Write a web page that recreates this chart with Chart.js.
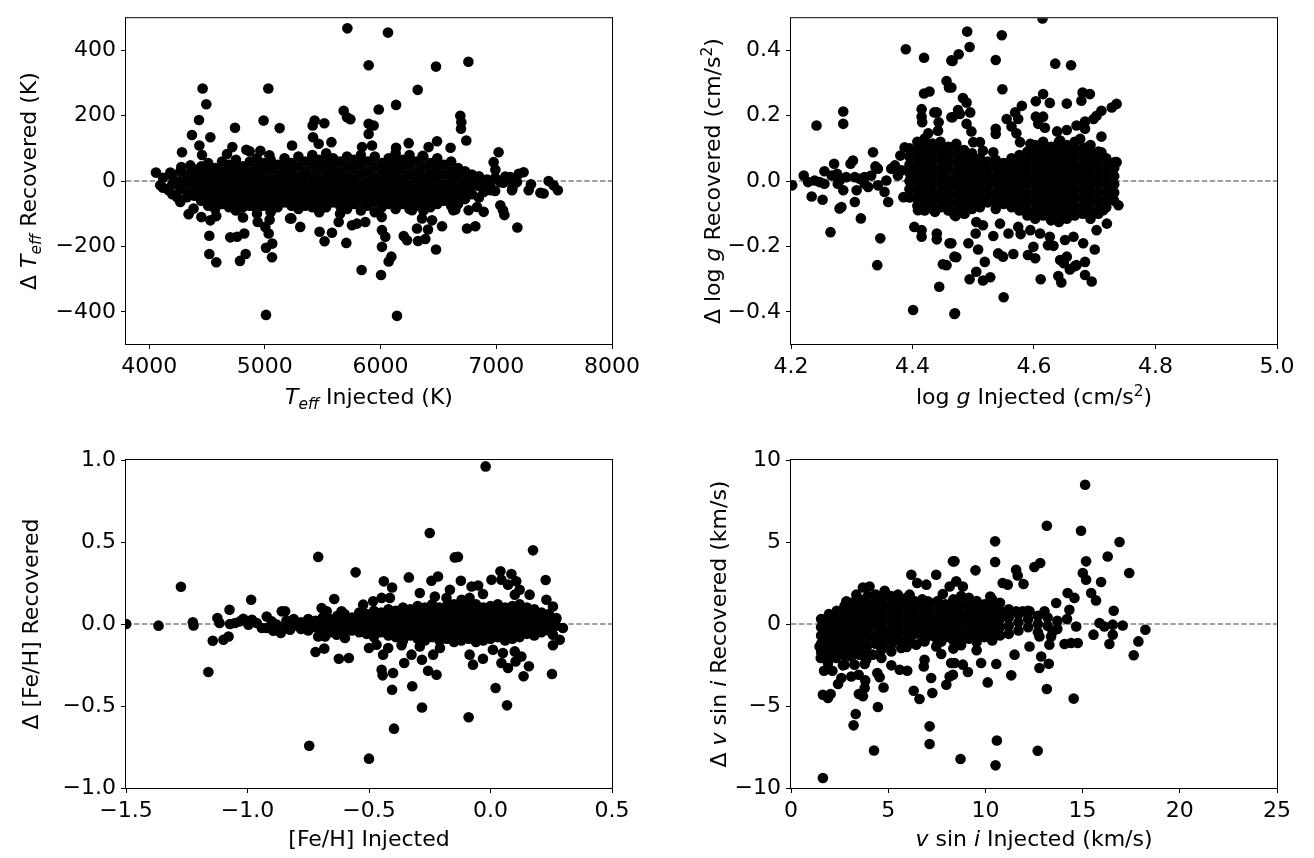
<!DOCTYPE html>
<html>
<head>
<meta charset="UTF-8">
<title>Injection recovery</title>
<script src="https://cdn.jsdelivr.net/npm/chart.js@4.4.1/dist/chart.umd.min.js"></script>
<style>
  body { margin: 0; background: #fff; }
  canvas { position: absolute; }
</style>
</head>
<body>
<canvas id="c1" width="657" height="429" style="left:0;top:0"></canvas>
<canvas id="c2" width="657" height="429" style="left:657px;top:0"></canvas>
<canvas id="c3" width="657" height="429" style="left:0;top:429px"></canvas>
<canvas id="c4" width="657" height="429" style="left:657px;top:429px"></canvas>
<script>
// [injected, recovered - injected]
const teffPoints = [
  [4462,283],[4494,235],[4431,187],[4370,141],[4529,134],[4434,109],[4284,88],[4742,163],[4989,185],[5030,283],
  [5128,162],[4719,104],[4840,96],[4868,91],[4961,93],[5039,79],[4673,83],[4457,80],
  [4341,-101],[4384,-84],[4451,-110],[4529,-120],[4580,-107],[4520,-167],[4701,-172],[4759,-170],[4822,-160],
  [4520,-223],[4580,-248],[4785,-244],[4834,-223],[5010,-409],[5010,-204],[5064,-191],[5062,-233],[5033,-160],
  [5004,-140],[5041,-118],[4938,-125],[4811,-111],[4932,-99],[5218,-114],
  [4059,26],[4096,-13],[4183,26],[4168,-28],[4241,-49],[4269,-64],[4327,-49],[4278,43],[4356,48],
  [5713,467],[6064,454],[5897,354],[6479,350],[6321,279],[6134,233],[5984,219],[5681,215],[5710,195],[5739,189],
  [5897,175],[5940,170],[5897,144],[5430,185],[5413,170],[5514,177],[5416,134],[5235,109],[5465,114],[5575,119],
  [5840,104],[5926,109],[6134,102],[6243,116],[6488,122],[6605,102],[6363,77],[6415,104],
  [5229,-114],[5306,-140],[5473,-155],[5516,-184],[5580,-158],[5704,-189],[5753,-135],[5796,-130],[5868,-125],
  [5638,-125],[6012,-150],[6041,-170],[6012,-201],[6093,-231],[6070,-246],[5836,-272],[6004,-287],[6142,-412],
  [6200,-168],[6229,-181],[6324,-183],[6387,-177],[6479,-209],[6315,-145],[6410,-148],[6531,-138],[6272,-89],
  [6358,-114],[6445,-120],[6628,-89],
  [6759,365],[6689,200],[6698,180],[6695,160],[6741,124],[7020,88],[6977,58],[6992,35],[7193,22],[7236,27],
  [7452,0],[7495,-13],[7532,-28],[7280,-28],[7381,-36],[7409,-38],[7182,-142],[7035,-74],[7058,-89],[7070,-104],
  [6747,-145],[6819,-138],[6761,-89],[6834,-79],[6891,-94],[6646,-87],[7136,-28],[7078,14],[7121,12],[7179,-3],
  [6791,2],[6862,2],[6949,-8],[7035,-3],[6891,-33],[6949,-28],[6776,-33],
  [4120,10],[4120,-20],[4200,15],[4200,-10],[4200,-40],[4270,30],[4270,0],[4270,-25],[4330,20],[4330,-5],[4330,-35],
  [4390,35],[4390,10],[4390,-15],[4390,-45],[4450,45],[4450,20],[4450,-5],[4450,-30],[4450,-60],
  [4510,55],[4510,25],[4510,0],[4510,-25],[4510,-50],[4510,-75],[4570,40],[4570,15],[4570,-10],[4570,-35],[4570,-60],[4570,-85],
  [4630,60],[4630,30],[4630,5],[4630,-20],[4630,-45],[4630,-70],[4690,50],[4690,25],[4690,-5],[4690,-30],[4690,-55],[4690,-80],
  [4750,65],[4750,35],[4750,10],[4750,-15],[4750,-40],[4750,-65],[4750,-90],[4810,45],[4810,20],[4810,-5],[4810,-30],[4810,-55],[4810,-80],
  [4870,60],[4870,30],[4870,0],[4870,-25],[4870,-50],[4870,-75],[4930,70],[4930,40],[4930,15],[4930,-10],[4930,-35],[4930,-60],[4930,-85],
  [4990,55],[4990,25],[4990,0],[4990,-25],[4990,-50],[4990,-75],[5050,65],[5050,35],[5050,5],[5050,-20],[5050,-45],[5050,-70],[5050,-95],
  [5110,50],[5110,20],[5110,-5],[5110,-30],[5110,-55],[5110,-80],[5170,70],[5170,40],[5170,10],[5170,-15],[5170,-40],[5170,-65],
  [5230,55],[5230,25],[5230,0],[5230,-25],[5230,-50],[5230,-75],[5290,75],[5290,45],[5290,15],[5290,-10],[5290,-35],[5290,-60],[5290,-85],
  [5350,60],[5350,30],[5350,0],[5350,-25],[5350,-50],[5350,-75],[5410,80],[5410,50],[5410,20],[5410,-5],[5410,-30],[5410,-55],[5410,-80],
  [5470,65],[5470,35],[5470,5],[5470,-20],[5470,-45],[5470,-70],[5470,-95],[5530,85],[5530,55],[5530,25],[5530,-5],[5530,-30],[5530,-55],[5530,-80],
  [5590,70],[5590,40],[5590,10],[5590,-15],[5590,-40],[5590,-65],[5650,60],[5650,30],[5650,0],[5650,-25],[5650,-50],[5650,-75],[5650,-100],
  [5710,75],[5710,45],[5710,15],[5710,-10],[5710,-35],[5710,-60],[5710,-85],[5770,65],[5770,35],[5770,5],[5770,-20],[5770,-45],[5770,-70],
  [5830,80],[5830,50],[5830,20],[5830,-10],[5830,-35],[5830,-60],[5830,-90],[5890,60],[5890,30],[5890,0],[5890,-25],[5890,-50],[5890,-75],
  [5950,75],[5950,45],[5950,15],[5950,-15],[5950,-40],[5950,-65],[5950,-95],[6010,55],[6010,25],[6010,-5],[6010,-30],[6010,-55],[6010,-80],[6010,-110],
  [6070,70],[6070,40],[6070,10],[6070,-20],[6070,-45],[6070,-70],[6130,85],[6130,55],[6130,25],[6130,-5],[6130,-30],[6130,-55],[6130,-85],
  [6190,65],[6190,35],[6190,5],[6190,-20],[6190,-45],[6190,-70],[6250,80],[6250,50],[6250,20],[6250,-10],[6250,-35],[6250,-60],[6250,-85],
  [6310,60],[6310,30],[6310,0],[6310,-25],[6310,-50],[6310,-75],[6370,75],[6370,45],[6370,15],[6370,-15],[6370,-40],[6370,-65],[6370,-90],
  [6430,55],[6430,25],[6430,-5],[6430,-30],[6430,-55],[6430,-80],[6490,70],[6490,40],[6490,10],[6490,-20],[6490,-45],[6490,-70],
  [6550,50],[6550,20],[6550,-10],[6550,-35],[6550,-60],[6610,60],[6610,30],[6610,0],[6610,-25],[6610,-50],[6610,-75],
  [6670,40],[6670,10],[6670,-20],[6670,-45],[6670,-70],[6730,30],[6730,0],[6730,-25],[6730,-55],[6790,20],[6790,-10],[6790,-40],
  [6850,15],[6850,-15],[6850,-50],[6920,5],[6920,-20],[6990,10],[6990,-30],[7060,-5],[7140,0],[7140,-20],[7300,-10]
];

const loggPoints = [
  [4.202,-0.013],[4.221,0.017],[4.228,-0.003],[4.239,0.002],[4.247,-0.003],[4.255,-0.008],[4.234,-0.047],[4.252,-0.057],
  [4.255,0.03],[4.271,0.053],[4.267,0.017],[4.276,0.022],[4.28,0.002],[4.286,-0.028],[4.277,-0.008],[4.242,0.17],
  [4.286,0.213],[4.286,0.175],[4.265,-0.156],[4.28,-0.084],[4.283,-0.079],[4.298,0.053],[4.302,0.063],[4.291,0.012],
  [4.305,0.012],[4.313,0.007],[4.308,-0.028],[4.305,-0.064],[4.315,-0.114],[4.321,0.012],[4.332,0.017],[4.321,-0.008],
  [4.335,0.088],[4.339,0.045],[4.343,0.038],[4.327,-0.018],[4.343,-0.013],[4.354,-0.033],[4.36,-0.064],[4.357,0.002],
  [4.365,0.038],[4.371,0.048],[4.376,0.017],[4.382,0.033],[4.385,-0.049],[4.38,0.078],[4.347,-0.175],[4.342,-0.257],
  [4.387,0.103],[4.389,0.403],[4.419,0.377],[4.464,0.369],[4.456,0.306],[4.46,0.286],[4.419,0.268],[4.428,0.274],
  [4.415,0.22],[4.415,0.197],[4.416,0.18],[4.436,0.21],[4.44,0.21],[4.464,0.195],[4.443,0.18],[4.442,0.154],[4.426,0.146],
  [4.403,-0.14],[4.415,-0.15],[4.415,-0.17],[4.44,-0.16],[4.44,-0.178],[4.461,-0.19],[4.45,-0.254],[4.456,-0.257],
  [4.444,-0.323],[4.401,-0.394],[4.469,-0.406],[4.469,-0.231],[4.469,-0.104],[4.437,-0.094],[4.409,-0.089],
  [4.614,0.497],[4.49,0.457],[4.547,0.446],[4.494,0.41],[4.476,0.388],[4.466,0.367],[4.537,0.37],[4.635,0.359],
  [4.661,0.354],[4.548,0.281],[4.464,0.286],[4.483,0.254],[4.489,0.24],[4.495,0.21],[4.475,0.217],[4.478,0.205],
  [4.466,0.195],[4.489,0.175],[4.497,0.152],[4.615,0.266],[4.603,0.244],[4.626,0.239],[4.654,0.237],[4.68,0.271],
  [4.692,0.266],[4.678,0.246],[4.736,0.236],[4.728,0.225],[4.711,0.215],[4.703,0.2],[4.698,0.19],[4.684,0.182],
  [4.58,0.23],[4.569,0.21],[4.555,0.19],[4.574,0.19],[4.563,0.167],[4.537,0.16],[4.537,0.144],[4.571,0.146],
  [4.603,0.197],[4.615,0.197],[4.607,0.175],[4.618,0.163],[4.638,0.152],[4.654,0.156],[4.67,0.17],[4.684,0.16],
  [4.711,0.136],[4.711,0.088],[4.733,0.058],[4.7,0.073],[4.739,-0.074],[4.724,-0.028],[4.511,0.119],[4.516,0.093],
  [4.533,0.088],[4.472,0.114],[4.5,0.119],[4.577,0.119],[4.594,0.114],[4.61,0.109],[4.632,0.103],[4.643,0.124],
  [4.676,0.129],[4.687,0.103],
  [4.471,-0.107],[4.486,-0.099],[4.505,-0.125],[4.516,-0.135],[4.504,-0.16],[4.533,-0.168],[4.544,-0.13],[4.558,-0.16],
  [4.574,-0.14],[4.578,-0.162],[4.594,-0.15],[4.61,-0.16],[4.626,-0.17],[4.651,-0.18],[4.665,-0.17],[4.681,-0.19],
  [4.703,-0.15],[4.72,-0.13],[4.714,-0.089],[4.464,-0.19],[4.492,-0.19],[4.508,-0.209],[4.472,-0.233],[4.519,-0.247],
  [4.541,-0.221],[4.549,-0.231],[4.566,-0.223],[4.59,-0.226],[4.602,-0.236],[4.599,-0.201],[4.623,-0.196],[4.632,-0.198],
  [4.643,-0.241],[4.649,-0.251],[4.654,-0.231],[4.67,-0.257],[4.684,-0.247],[4.7,-0.209],[4.494,-0.3],[4.505,-0.277],
  [4.516,-0.304],[4.528,-0.294],[4.611,-0.3],[4.64,-0.29],[4.645,-0.31],[4.659,-0.27],[4.667,-0.26],[4.684,-0.287],
  [4.695,-0.307],[4.55,-0.355],[4.47,-0.404],[4.736,0.058],
  [4.395,0.10],[4.395,0.075],[4.395,0.05],[4.395,0.025],[4.395,0.0],[4.395,-0.025],[4.395,-0.05],
  [4.408,0.12],[4.408,0.095],[4.408,0.07],[4.408,0.045],[4.408,0.02],[4.408,-0.005],[4.408,-0.03],[4.408,-0.055],[4.408,-0.075],
  [4.420,0.13],[4.420,0.105],[4.420,0.08],[4.420,0.055],[4.420,0.03],[4.420,0.005],[4.420,-0.02],[4.420,-0.045],[4.420,-0.07],[4.420,-0.09],
  [4.433,0.115],[4.433,0.09],[4.433,0.065],[4.433,0.04],[4.433,0.015],[4.433,-0.01],[4.433,-0.035],[4.433,-0.06],[4.433,-0.085],
  [4.446,0.12],[4.446,0.095],[4.446,0.07],[4.446,0.045],[4.446,0.02],[4.446,-0.005],[4.446,-0.03],[4.446,-0.055],[4.446,-0.08],
  [4.459,0.105],[4.459,0.08],[4.459,0.055],[4.459,0.03],[4.459,0.005],[4.459,-0.02],[4.459,-0.045],[4.459,-0.07],[4.459,-0.09],
  [4.472,0.11],[4.472,0.085],[4.472,0.06],[4.472,0.035],[4.472,0.01],[4.472,-0.015],[4.472,-0.04],[4.472,-0.065],[4.472,-0.09],
  [4.485,0.095],[4.485,0.07],[4.485,0.045],[4.485,0.02],[4.485,-0.005],[4.485,-0.03],[4.485,-0.055],[4.485,-0.08],[4.485,-0.1],
  [4.498,0.085],[4.498,0.06],[4.498,0.035],[4.498,0.01],[4.498,-0.015],[4.498,-0.04],[4.498,-0.065],[4.498,-0.085],
  [4.511,0.07],[4.511,0.045],[4.511,0.02],[4.511,-0.005],[4.511,-0.03],[4.511,-0.055],[4.511,-0.08],
  [4.524,0.06],[4.524,0.035],[4.524,0.01],[4.524,-0.015],[4.524,-0.04],[4.524,-0.065],
  [4.537,0.065],[4.537,0.04],[4.537,0.015],[4.537,-0.01],[4.537,-0.035],[4.537,-0.06],[4.537,-0.085],
  [4.550,0.055],[4.550,0.03],[4.550,0.005],[4.550,-0.02],[4.550,-0.045],[4.550,-0.07],
  [4.563,0.07],[4.563,0.045],[4.563,0.02],[4.563,-0.005],[4.563,-0.03],[4.563,-0.055],[4.563,-0.08],
  [4.576,0.08],[4.576,0.055],[4.576,0.03],[4.576,0.005],[4.576,-0.02],[4.576,-0.045],[4.576,-0.07],[4.576,-0.09],
  [4.589,0.09],[4.589,0.065],[4.589,0.04],[4.589,0.015],[4.589,-0.01],[4.589,-0.035],[4.589,-0.06],[4.589,-0.085],[4.589,-0.105],
  [4.602,0.11],[4.602,0.085],[4.602,0.06],[4.602,0.035],[4.602,0.01],[4.602,-0.015],[4.602,-0.04],[4.602,-0.065],[4.602,-0.09],[4.602,-0.115],
  [4.615,0.12],[4.615,0.095],[4.615,0.07],[4.615,0.045],[4.615,0.02],[4.615,-0.005],[4.615,-0.03],[4.615,-0.055],[4.615,-0.08],[4.615,-0.105],
  [4.628,0.105],[4.628,0.08],[4.628,0.055],[4.628,0.03],[4.628,0.005],[4.628,-0.02],[4.628,-0.045],[4.628,-0.07],[4.628,-0.095],[4.628,-0.12],
  [4.641,0.12],[4.641,0.095],[4.641,0.07],[4.641,0.045],[4.641,0.02],[4.641,-0.005],[4.641,-0.03],[4.641,-0.055],[4.641,-0.08],[4.641,-0.105],[4.641,-0.125],
  [4.654,0.11],[4.654,0.085],[4.654,0.06],[4.654,0.035],[4.654,0.01],[4.654,-0.015],[4.654,-0.04],[4.654,-0.065],[4.654,-0.09],[4.654,-0.115],
  [4.667,0.12],[4.667,0.095],[4.667,0.07],[4.667,0.045],[4.667,0.02],[4.667,-0.005],[4.667,-0.03],[4.667,-0.055],[4.667,-0.08],[4.667,-0.105],
  [4.680,0.1],[4.680,0.075],[4.680,0.05],[4.680,0.025],[4.680,0.0],[4.680,-0.025],[4.680,-0.05],[4.680,-0.075],[4.680,-0.1],
  [4.693,0.11],[4.693,0.085],[4.693,0.06],[4.693,0.035],[4.693,0.01],[4.693,-0.015],[4.693,-0.04],[4.693,-0.065],[4.693,-0.09],[4.693,-0.115],
  [4.706,0.09],[4.706,0.065],[4.706,0.04],[4.706,0.015],[4.706,-0.01],[4.706,-0.035],[4.706,-0.06],[4.706,-0.085],[4.706,-0.1],
  [4.719,0.07],[4.719,0.045],[4.719,0.02],[4.719,-0.005],[4.719,-0.03],[4.719,-0.055],[4.719,-0.08],
  [4.732,0.04],[4.732,0.015],[4.732,-0.01],[4.732,-0.035],[4.732,-0.06]
];

const fehPoints = [
  [-1.499,0.0],[-1.366,-0.01],[-1.274,0.227],[-1.225,0.01],[-1.222,-0.009],[-1.161,-0.293],[-1.143,-0.102],[-1.124,0.037],
  [-1.115,0.006],[-1.099,-0.096],[-1.078,-0.076],[-1.074,0.087],[-1.072,0],[-1.051,0.006],[-1.031,0.016],[-1.017,0.032],
  [-0.996,-0.004],[-0.985,0.148],[-0.982,0.026],[-0.962,0.006],[-0.941,-0.024],[-0.921,0.046],[-0.921,-0.024],[-0.9,0.016],
  [-0.894,-0.041],[-0.88,-0.004],[-0.859,0.077],[-0.863,-0.055],[-0.839,-0.004],[-0.825,-0.035],
  [-0.709,0.409],[-0.746,-0.742],[-0.5,-0.821],[-0.555,0.315],[-0.643,0.152],[-0.845,0.077],[-0.709,-0.076],[-0.681,-0.076],
  [-0.72,-0.171],[-0.684,-0.15],[-0.624,-0.212],[-0.583,-0.207],[-0.695,0.098],[-0.674,0.077],[-0.613,0.077],[-0.599,-0.085],
  [-0.633,-0.065],[-0.5,-0.146],[-0.524,0.118],[-0.483,0.138],[-0.448,0.159],[-0.414,0.159],[-0.439,0.26],[-0.405,0.223],
  [-0.336,0.284],[-0.291,0.189],[-0.25,0.555],[-0.243,0.264],[-0.216,0.29],[-0.229,0.168],[-0.181,0.159],[-0.167,0.209],
  [-0.147,0.406],
  [-0.469,-0.126],[-0.442,-0.187],[-0.421,-0.146],[-0.366,-0.13],[-0.448,-0.279],[-0.444,-0.313],[-0.401,-0.299],
  [-0.405,-0.401],[-0.325,-0.187],[-0.322,-0.38],[-0.355,-0.238],[-0.291,-0.137],[-0.282,-0.218],[-0.257,-0.285],
  [-0.222,-0.309],[-0.236,-0.187],[-0.208,-0.146],[-0.282,-0.509],[-0.397,-0.638],
  [-0.02,0.961],[-0.134,0.409],[0.175,0.449],[0.041,0.321],[0.086,0.305],[0.106,0.26],[0.004,0.27],[-0.122,0.264],
  [-0.078,0.229],[-0.051,0.235],[0.227,0.268],[0.045,0.27],[0.072,0.24],[0.12,0.209],[0.1,0.179],[0.161,0.179],
  [0.23,0.148],[0.257,0.107],[-0.119,0.148],[-0.031,0.183],[-0.086,0.159],[0.271,0.037],[0.298,-0.024],[0.257,-0.065],
  [0.285,-0.096],[0.257,-0.13],[0.253,-0.305],[0.136,-0.319],[0.158,-0.258],[0.127,-0.198],[0.103,-0.228],[0.068,-0.496],
  [0.021,-0.39],[-0.09,-0.569],[-0.086,-0.187],[-0.072,-0.248],[-0.031,-0.212],[0.01,-0.157],[0.045,-0.238],[0.072,-0.268],
  [0.051,-0.177],[0.1,-0.167],
  [-0.84,0.02],[-0.84,-0.02],[-0.81,0.03],[-0.81,-0.01],[-0.78,0.01],[-0.78,-0.03],[-0.75,0.03],[-0.75,-0.01],[-0.75,-0.04],
  [-0.72,0.02],[-0.72,-0.02],[-0.69,0.04],[-0.69,0.0],[-0.69,-0.04],[-0.66,0.03],[-0.66,-0.01],[-0.66,-0.05],
  [-0.63,0.05],[-0.63,0.01],[-0.63,-0.03],[-0.60,0.06],[-0.60,0.02],[-0.60,-0.02],[-0.60,-0.05],
  [-0.57,0.04],[-0.57,0.0],[-0.57,-0.04],[-0.54,0.07],[-0.54,0.03],[-0.54,-0.01],[-0.54,-0.05],
  [-0.51,0.06],[-0.51,0.02],[-0.51,-0.02],[-0.51,-0.06],[-0.48,0.08],[-0.48,0.04],[-0.48,0.0],[-0.48,-0.04],[-0.48,-0.08],
  [-0.45,0.07],[-0.45,0.03],[-0.45,-0.01],[-0.45,-0.05],[-0.42,0.09],[-0.42,0.05],[-0.42,0.01],[-0.42,-0.03],[-0.42,-0.07],
  [-0.39,0.08],[-0.39,0.04],[-0.39,0.0],[-0.39,-0.04],[-0.39,-0.08],
  [-0.36,0.10],[-0.36,0.06],[-0.36,0.02],[-0.36,-0.02],[-0.36,-0.06],[-0.36,-0.10],
  [-0.33,0.09],[-0.33,0.05],[-0.33,0.01],[-0.33,-0.03],[-0.33,-0.07],
  [-0.30,0.11],[-0.30,0.07],[-0.30,0.03],[-0.30,-0.01],[-0.30,-0.05],[-0.30,-0.09],
  [-0.27,0.10],[-0.27,0.06],[-0.27,0.02],[-0.27,-0.02],[-0.27,-0.06],[-0.27,-0.10],
  [-0.24,0.12],[-0.24,0.08],[-0.24,0.04],[-0.24,0.0],[-0.24,-0.04],[-0.24,-0.08],
  [-0.21,0.10],[-0.21,0.06],[-0.21,0.02],[-0.21,-0.02],[-0.21,-0.06],[-0.21,-0.10],
  [-0.18,0.11],[-0.18,0.07],[-0.18,0.03],[-0.18,-0.01],[-0.18,-0.05],[-0.18,-0.09],
  [-0.15,0.12],[-0.15,0.08],[-0.15,0.04],[-0.15,0.0],[-0.15,-0.04],[-0.15,-0.08],[-0.15,-0.11],
  [-0.12,0.10],[-0.12,0.06],[-0.12,0.02],[-0.12,-0.02],[-0.12,-0.06],[-0.12,-0.10],
  [-0.09,0.11],[-0.09,0.07],[-0.09,0.03],[-0.09,-0.01],[-0.09,-0.05],[-0.09,-0.09],
  [-0.06,0.12],[-0.06,0.08],[-0.06,0.04],[-0.06,0.0],[-0.06,-0.04],[-0.06,-0.08],[-0.06,-0.11],
  [-0.03,0.10],[-0.03,0.06],[-0.03,0.02],[-0.03,-0.02],[-0.03,-0.06],[-0.03,-0.10],
  [0.00,0.11],[0.00,0.07],[0.00,0.03],[0.00,-0.01],[0.00,-0.05],[0.00,-0.09],
  [0.03,0.12],[0.03,0.08],[0.03,0.04],[0.03,0.0],[0.03,-0.04],[0.03,-0.08],
  [0.06,0.10],[0.06,0.06],[0.06,0.02],[0.06,-0.02],[0.06,-0.06],[0.06,-0.10],
  [0.09,0.11],[0.09,0.07],[0.09,0.03],[0.09,-0.01],[0.09,-0.05],[0.09,-0.09],
  [0.12,0.12],[0.12,0.08],[0.12,0.04],[0.12,0.0],[0.12,-0.04],[0.12,-0.08],
  [0.15,0.10],[0.15,0.06],[0.15,0.02],[0.15,-0.02],[0.15,-0.06],
  [0.18,0.09],[0.18,0.05],[0.18,0.01],[0.18,-0.03],[0.18,-0.07],
  [0.21,0.07],[0.21,0.03],[0.21,-0.01],[0.21,-0.05],[0.24,0.06],[0.24,0.02],[0.24,-0.02],[0.24,-0.04],
  [0.27,0.03],[0.27,-0.01]
];

const vsiniPoints = [
  [1.64,-9.39],[4.27,-7.71],[3.22,-6.18],[3.33,-5.49],[4.47,-5.06],[1.64,-4.31],[1.9,-4.51],[2.04,-4.27],[3.49,-4.27],
  [3.7,-4.41],[3.79,-3.9],[4.76,-3.87],[2.42,-3.66],[2.59,-3.29],[3.1,-3.2],[3.48,-3.09],[3.82,-3.44],[4.44,-2.99],
  [4.56,-3.25],[1.7,-2.85],[2.13,-2.85],[2.67,-2.52],[3.27,-2.48],[3.79,-2.44],[4.65,-2.07],[5.16,-2.52],[5.59,-2.79],
  [5.98,-2.85],[6.31,-4.07],[6.61,-4.57],[6.83,-2.59],[6.87,-2.18],[7.21,-3.29],[7.27,-4.21],[7.13,-6.24],[7.13,-7.32],
  [7.73,-1.83],[7.99,-3.7],[8.16,-3.2],[8.24,-2.38],[6.19,3.0],[6.49,2.5],[6.96,2.4],[7.47,3.0],[8.33,3.82],[3.7,2.23],
  [4.04,2.29],[3.36,1.79],[2.85,1.38],[4.82,2.03],[5.5,1.79],[6.1,1.79],[6.53,1.28],[7.04,1.38],[7.81,1.83],[8.16,2.29],
  [1.47,-1.37],[1.53,-2.07],[2.08,-1.87],[1.9,-2.38],[2.33,-2.07],[2.76,-2.48],[3.1,-1.98],[3.53,-1.87],[3.87,-2.18],
  [4.21,-1.87],[4.65,-1.57],[5.16,-1.67],[5.67,-1.46],[6.1,-0.96],[6.44,-1.26],[6.87,-1.06],[7.47,-1.37],[7.39,-0.76],
  [7.73,-1.06],[8.16,-0.76],
  [15.13,8.49],[13.16,5.99],[14.92,5.69],[16.9,5.0],[10.5,5.04],[8.41,3.82],[10.5,3.78],[9.49,3.27],[12.52,3.48],
  [12.82,3.72],[11.58,3.31],[11.66,2.96],[11.96,2.44],[15.01,3.11],[15.18,2.7],[15.18,3.82],[16.29,4.12],[15.95,2.56],
  [15.44,1.89],[15.69,1.44],[16.6,0.81],[16.55,-0.04],[16.55,-0.65],[16.38,-1.22],[15.56,-0.65],[15.87,0.06],[16.12,-0.15],
  [14.23,1.89],[14.58,1.59],[14.67,-0.15],[14.07,-1.22],[14.41,-1.16],[14.75,-1.16],[14.32,0.87],[13.64,1.28],[13.46,-0.45],
  [13.29,-1.26],[13.38,-0.76],[13.04,0.77],[13.16,-3.96],[14.54,-4.55],[12.69,-7.73],[10.59,-7.1],[10.52,-8.62],[8.72,-8.23],
  [10.12,-3.56],[11.33,-3.13],[12.87,-1.98],[13.26,-2.42],[12.78,-2.68],[11.5,-1.87],[10.56,-2.44],[9.78,-2.38],[9.1,-2.93],
  [8.33,-3.09],[8.41,-2.38],[8.84,-2.48],[10.89,2.5],[11.15,2.4],[10.25,1.68],[8.84,2.29],[8.5,2.6],[11.92,0.77],
  [12.27,0.77],[11.58,0.77],[10.98,0.61],[12.27,-1.37],[12.78,-0.76],[17.4,3.11],[17.06,-0.09],[18.23,-0.35],[17.87,-1.06],
  [17.63,-1.91],
  [1.55,0.3],[1.55,-0.2],[1.55,-0.7],[1.55,-1.2],[1.55,-1.7],
  [1.95,0.6],[1.95,0.1],[1.95,-0.4],[1.95,-0.9],[1.95,-1.4],[1.95,-1.9],
  [2.35,0.8],[2.35,0.3],[2.35,-0.2],[2.35,-0.7],[2.35,-1.2],[2.35,-1.7],
  [2.75,1.1],[2.75,0.6],[2.75,0.1],[2.75,-0.4],[2.75,-0.9],[2.75,-1.4],[2.75,-1.9],
  [3.15,1.3],[3.15,0.8],[3.15,0.3],[3.15,-0.2],[3.15,-0.7],[3.15,-1.2],[3.15,-1.7],
  [3.55,1.5],[3.55,1.0],[3.55,0.5],[3.55,0.0],[3.55,-0.5],[3.55,-1.0],[3.55,-1.5],
  [3.95,1.7],[3.95,1.2],[3.95,0.7],[3.95,0.2],[3.95,-0.3],[3.95,-0.8],[3.95,-1.3],[3.95,-1.8],
  [4.35,1.8],[4.35,1.3],[4.35,0.8],[4.35,0.3],[4.35,-0.2],[4.35,-0.7],[4.35,-1.2],
  [4.75,1.6],[4.75,1.1],[4.75,0.6],[4.75,0.1],[4.75,-0.4],[4.75,-0.9],[4.75,-1.4],
  [5.15,1.7],[5.15,1.2],[5.15,0.7],[5.15,0.2],[5.15,-0.3],[5.15,-0.8],[5.15,-1.3],
  [5.55,1.5],[5.55,1.0],[5.55,0.5],[5.55,0.0],[5.55,-0.5],[5.55,-1.0],
  [5.95,1.6],[5.95,1.1],[5.95,0.6],[5.95,0.1],[5.95,-0.4],[5.95,-0.9],[5.95,-1.4],
  [6.35,1.4],[6.35,0.9],[6.35,0.4],[6.35,-0.1],[6.35,-0.6],
  [6.75,1.5],[6.75,1.0],[6.75,0.5],[6.75,0.0],[6.75,-0.5],[6.75,-1.0],
  [7.15,1.3],[7.15,0.8],[7.15,0.3],[7.15,-0.2],[7.15,-0.7],
  [7.55,1.4],[7.55,0.9],[7.55,0.4],[7.55,-0.1],[7.55,-0.6],[7.55,-1.1],
  [7.95,1.2],[7.95,0.7],[7.95,0.2],[7.95,-0.3],[7.95,-0.8],
  [8.35,1.5],[8.35,1.0],[8.35,0.5],[8.35,0.0],[8.35,-0.5],[8.35,-1.0],[8.35,-1.5],
  [8.75,1.7],[8.75,1.2],[8.75,0.7],[8.75,0.2],[8.75,-0.3],[8.75,-0.8],[8.75,-1.3],
  [9.15,1.6],[9.15,1.1],[9.15,0.6],[9.15,0.1],[9.15,-0.4],[9.15,-0.9],
  [9.55,1.4],[9.55,0.9],[9.55,0.4],[9.55,-0.1],[9.55,-0.6],[9.55,-1.1],[9.55,-1.6],
  [9.95,1.2],[9.95,0.7],[9.95,0.2],[9.95,-0.3],[9.95,-0.8],
  [10.35,1.5],[10.35,1.0],[10.35,0.5],[10.35,0.0],[10.35,-0.5],[10.35,-1.0],
  [10.75,1.3],[10.75,0.8],[10.75,0.3],[10.75,-0.2],[10.75,-0.7],
  [11.2,0.9],[11.2,0.4],[11.2,-0.1],[11.2,-0.6],[11.7,0.6],[11.7,0.1],[11.7,-0.4],
  [12.2,0.8],[12.2,0.3],[12.2,-0.2],[12.7,0.5],[12.7,0.0],[12.7,-0.5],[13.2,0.4],[13.2,-0.1],
  [13.7,0.2],[13.7,-0.3],[14.2,0.3]
];

const teffTicksX = [4000, 5000, 6000, 7000, 8000];
const teffTicksY = [-400, -200, 0, 200, 400];
const loggTicksX = [4.2, 4.4, 4.6, 4.8, 5.0];
const loggTicksY = [-0.4, -0.2, 0.0, 0.2, 0.4];
const fehTicksX = [-1.5, -1.0, -0.5, 0.0, 0.5];
const fehTicksY = [-1.0, -0.5, 0.0, 0.5, 1.0];
const vsiniTicksX = [0, 5, 10, 15, 20, 25];
const vsiniTicksY = [-10, -5, 0, 5, 10];

const FONT = 'DejaVu Sans';
const FS = 22;
Chart.defaults.font.family = FONT;
Chart.defaults.color = '#000';

function fmt(v, dec) {
  return Number(v).toFixed(dec).replace('-', '\u2212');
}

// draws a label made of plain / italic / sub / sup pieces, centred on the origin
function drawRich(ctx, segs) {
  let total = 0;
  const parts = segs.map(s => {
    const size = (s.sub || s.sup) ? FS * 0.7 : FS;
    const font = (s.it ? 'italic ' : '') + size + 'px "' + FONT + '"';
    ctx.font = font;
    const w = ctx.measureText(s.t).width;
    total += w;
    return { t: s.t, font: font, w: w, dy: s.sub ? FS * 0.22 : (s.sup ? -FS * 0.38 : 0) };
  });
  let x = -total / 2;
  ctx.textAlign = 'left';
  ctx.textBaseline = 'alphabetic';
  parts.forEach(p => {
    ctx.font = p.font;
    ctx.fillText(p.t, x, p.dy);
    x += p.w;
  });
}

const decor = {
  id: 'decor',
  beforeDatasetsDraw(chart) {
    const { ctx, chartArea: a, scales } = chart;
    const y = scales.y.getPixelForValue(0);
    ctx.save();
    ctx.strokeStyle = '#808080';
    ctx.lineWidth = 1.5;
    ctx.setLineDash([5.5, 2.4]);
    ctx.beginPath();
    ctx.moveTo(a.left, y);
    ctx.lineTo(a.right, y);
    ctx.stroke();
    ctx.restore();
  },
  afterDraw(chart, args, opts) {
    const { ctx, chartArea: a } = chart;
    ctx.save();
    ctx.strokeStyle = '#000';
    ctx.lineWidth = 1;
    ctx.strokeRect(a.left - 0.5, a.top - 0.5, a.right - a.left + 1, a.bottom - a.top + 1);
    ctx.fillStyle = '#000';
    ctx.save();
    ctx.translate((a.left + a.right) / 2, a.bottom + opts.xTitleOffset);
    drawRich(ctx, opts.xTitle);
    ctx.restore();
    ctx.save();
    ctx.translate(a.left - opts.yTitleOffset, (a.top + a.bottom) / 2);
    ctx.rotate(-Math.PI / 2);
    drawRich(ctx, opts.yTitle);
    ctx.restore();
    ctx.restore();
  }
};

function axis(min, max, ticks, dec, fit) {
  return {
    type: 'linear', min: min, max: max,
    afterFit: fit,
    afterBuildTicks: s => { s.ticks = ticks.map(v => ({ value: v })); },
    ticks: { font: { size: FS }, color: '#000', padding: 5, maxRotation: 0, autoSkip: false,
             callback: v => fmt(v, dec) },
    grid: { drawOnChartArea: false, drawTicks: true, tickLength: 5, color: '#000', lineWidth: 1 },
    border: { display: false }
  };
}

function panel(id, points, area, x, y, titles) {
  const W = 657, H = 429;
  new Chart(document.getElementById(id), {
    type: 'scatter',
    data: { datasets: [{
      data: points.map(p => ({ x: p[0], y: p[1] })),
      backgroundColor: '#000', borderWidth: 0, pointRadius: 5.3, pointHoverRadius: 5.3
    }] },
    options: {
      responsive: false, animation: false, devicePixelRatio: 1, events: [],
      layout: { padding: { left: 0, top: area.top, right: W - area.right, bottom: 0 } },
      plugins: { legend: { display: false }, tooltip: { enabled: false }, decor: titles },
      scales: {
        x: axis(x.min, x.max, x.ticks, x.dec, s => { s.height = H - area.bottom; }),
        y: axis(y.min, y.max, y.ticks, y.dec, s => { s.width = area.left; })
      }
    },
    plugins: [decor]
  });
}

panel('c1', teffPoints, { left: 126, right: 612, top: 17, bottom: 344 },
  { min: 3800, max: 8000, ticks: teffTicksX, dec: 0 },
  { min: -498, max: 498, ticks: teffTicksY, dec: 0 },
  { xTitleOffset: 60, yTitleOffset: 90,
    xTitle: [{ t: 'T', it: 1 }, { t: 'eff', it: 1, sub: 1 }, { t: ' Injected (K)' }],
    yTitle: [{ t: '\u0394 ' }, { t: 'T', it: 1 }, { t: 'eff', it: 1, sub: 1 }, { t: ' Recovered (K)' }] });

panel('c2', loggPoints, { left: 134, right: 620, top: 17, bottom: 344 },
  { min: 4.2, max: 5.0, ticks: loggTicksX, dec: 1 },
  { min: -0.498, max: 0.498, ticks: loggTicksY, dec: 1 },
  { xTitleOffset: 60, yTitleOffset: 71,
    xTitle: [{ t: 'log ' }, { t: 'g', it: 1 }, { t: ' Injected (cm/s' }, { t: '2', sup: 1 }, { t: ')' }],
    yTitle: [{ t: '\u0394 log ' }, { t: 'g', it: 1 }, { t: ' Recovered (cm/s' }, { t: '2', sup: 1 }, { t: ')' }] });

panel('c3', fehPoints, { left: 126, right: 612, top: 31, bottom: 359 },
  { min: -1.5, max: 0.5, ticks: fehTicksX, dec: 1 },
  { min: -1.0, max: 1.0, ticks: fehTicksY, dec: 1 },
  { xTitleOffset: 58, yTitleOffset: 88,
    xTitle: [{ t: '[Fe/H] Injected' }],
    yTitle: [{ t: '\u0394 [Fe/H] Recovered' }] });

panel('c4', vsiniPoints, { left: 134, right: 620, top: 31, bottom: 359 },
  { min: 0, max: 25, ticks: vsiniTicksX, dec: 0 },
  { min: -10, max: 10, ticks: vsiniTicksY, dec: 0 },
  { xTitleOffset: 58, yTitleOffset: 65,
    xTitle: [{ t: 'v', it: 1 }, { t: ' sin ' }, { t: 'i', it: 1 }, { t: ' Injected (km/s)' }],
    yTitle: [{ t: '\u0394 ' }, { t: 'v', it: 1 }, { t: ' sin ' }, { t: 'i', it: 1 }, { t: ' Recovered (km/s)' }] });
</script>
</body>
</html>
